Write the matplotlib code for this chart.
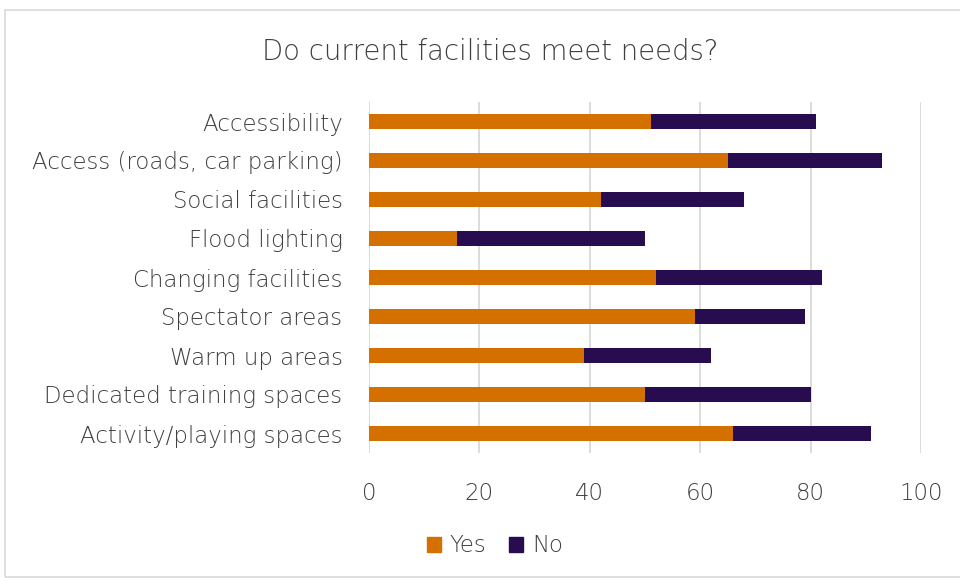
import matplotlib
matplotlib.use("Agg")
import matplotlib.pyplot as plt
from matplotlib.patches import Rectangle, Patch

categories = [
    "Accessibility",
    "Access (roads, car parking)",
    "Social facilities",
    "Flood lighting",
    "Changing facilities",
    "Spectator areas",
    "Warm up areas",
    "Dedicated training spaces",
    "Activity/playing spaces",
]
yes_values = [51, 65, 42, 16, 52, 59, 39, 50, 66]
no_values = [30, 28, 26, 34, 30, 20, 23, 30, 25]
x_ticks = [0, 20, 40, 60, 80, 100]

ORANGE = "#D37000"
PURPLE = "#270C4F"
TEXT = "#3F3F3F"
GRID = "#D9D9D9"

plt.rcParams["font.family"] = ["DejaVu Sans"]
WEIGHT = 200
FS = 16.5

fig = plt.figure(figsize=(9.6, 5.78), dpi=100)
ax = fig.add_axes([369 / 960, 1 - 453 / 578, 552 / 960, 351 / 578])

ypos = list(range(len(categories)))
ax.barh(ypos, yes_values, height=0.41, color=ORANGE, label="Yes", zorder=3)
ax.barh(ypos, no_values, left=yes_values, height=0.41, color=PURPLE,
        label="No", zorder=3)

ax.set_xlim(0, 100)
ax.set_ylim(len(categories) - 0.5, -0.5)
ax.set_yticks(ypos)
ax.set_yticklabels(categories, fontsize=FS, color=TEXT, fontweight=WEIGHT)
ax.set_xticks(x_ticks)
ax.set_xticklabels([str(t) for t in x_ticks], fontsize=FS, color=TEXT,
                   fontweight=WEIGHT)
ax.tick_params(axis="both", length=0)
ax.tick_params(axis="y", pad=19)
ax.tick_params(axis="x", pad=21)
ax.grid(axis="x", color=GRID, linewidth=1.3, zorder=0)
for s in ax.spines.values():
    s.set_visible(False)

fig.text(490 / 960, 1 - 52 / 578, "Do current facilities meet needs?",
         ha="center", va="center", fontsize=19.8, color=TEXT,
         fontweight=WEIGHT)

handles = [Patch(color=ORANGE, label="Yes"), Patch(color=PURPLE, label="No")]
fig.legend(handles=handles, loc="center", bbox_to_anchor=(495 / 960, 1 - 546 / 578),
           ncol=2, frameon=False, labelcolor=TEXT,
           handlelength=0.6, handleheight=0.6, handletextpad=0.4,
           columnspacing=1.0, prop={"weight": WEIGHT, "size": FS})

fig.patches.append(Rectangle((5 / 960, 0.002), 1.2, 1 - 10 / 578 - 0.002,
                             transform=fig.transFigure, fill=False,
                             edgecolor=GRID, linewidth=1.2))

fig.savefig("out.png", dpi=100, facecolor="white")
